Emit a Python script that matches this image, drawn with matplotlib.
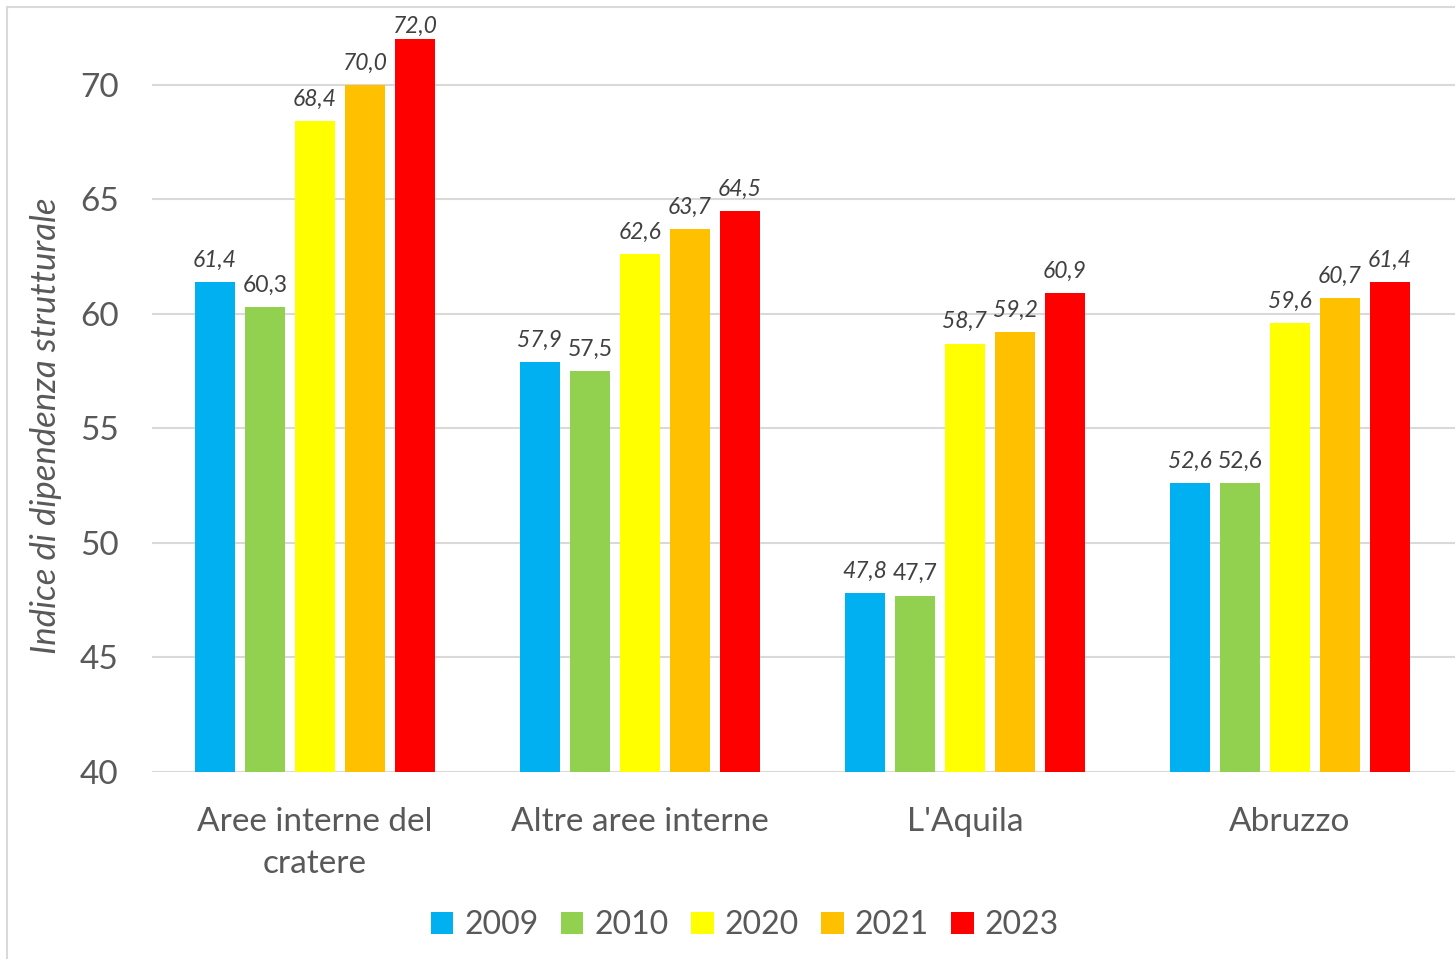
import numpy as np
import matplotlib.pyplot as plt
from matplotlib.patches import Rectangle

plt.rcParams['font.family'] = ['Lato', 'DejaVu Sans']

categories = ["Aree interne del\ncratere", "Altre aree interne", "L'Aquila", "Abruzzo"]
years = ["2009", "2010", "2020", "2021", "2023"]
values = {
    "2009": [61.4, 57.9, 47.8, 52.6],
    "2010": [60.3, 57.5, 47.7, 52.6],
    "2020": [68.4, 62.6, 58.7, 59.6],
    "2021": [70.0, 63.7, 59.2, 60.7],
    "2023": [72.0, 64.5, 60.9, 61.4],
}
colors = ["#00B0F0", "#92D050", "#FFFF00", "#FFC000", "#FF0000"]
yticks = [40, 45, 50, 55, 60, 65, 70]

txt = "#595959"
fig = plt.figure(figsize=(14.55, 9.59), dpi=100)
ax = fig.add_axes([152 / 1455, 1 - 772 / 959, 1303 / 1455, 733 / 959])

# light frame around the chart area
fig.patches.append(Rectangle((7 / 1455, -0.1), 1.2, 1 - 7 / 959 + 0.1,
                             transform=fig.transFigure, fill=False,
                             edgecolor="#d9d9d9", linewidth=1.5))

x = np.arange(len(categories))
width = 0.123
step = 0.154
for i, (yr, c) in enumerate(zip(years, colors)):
    pos = x + (i - 2) * step
    vals = values[yr]
    ax.bar(pos, np.array(vals) - 40, width=width, bottom=40, color=c, label=yr, zorder=3)
    for p, v in zip(pos, vals):
        style = "normal" if yr == "2010" else "italic"
        ty = min(v + 0.5, 72.1)
        ax.text(p, ty, f"{v:.1f}".replace(".", ","), ha="center", va="bottom",
                fontsize=16.5, fontstyle=style, color="#404040", clip_on=False)

ax.set_xlim(-0.5015, 3.508)
ax.set_ylim(40, 72)
ax.set_yticks(yticks)
ax.set_yticklabels([str(t) for t in yticks], fontsize=24, color=txt)
ax.set_xticks(x)
ax.set_xticklabels(categories, fontsize=24, color=txt, linespacing=1.5)
ax.tick_params(axis="y", length=0, pad=24)
ax.tick_params(axis="x", length=0, pad=25)
ax.grid(axis="y", color="#d9d9d9", linewidth=1.5, zorder=0)
for s in ax.spines.values():
    s.set_visible(False)

ax.set_ylabel("Indice di dipendenza strutturale", fontsize=25, fontstyle="italic",
              color=txt)
ax.yaxis.set_label_coords(-0.069, 0.473)

ax.legend(loc="center", bbox_to_anchor=(745 / 1455, 1 - 925 / 959),
          bbox_transform=fig.transFigure, ncol=5, frameon=False, fontsize=23,
          handlelength=0.7, handleheight=0.7, handletextpad=0.35, columnspacing=0.7,
          labelcolor=txt)

fig.savefig("out.png", dpi=100)
